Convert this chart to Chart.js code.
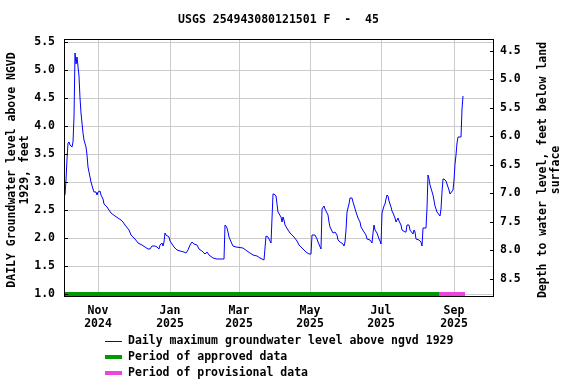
<!DOCTYPE html>
<html lang="en">
<head>
<meta charset="UTF-8">
<title>USGS 254943080121501 F - 45</title>
<script src="https://cdn.jsdelivr.net/npm/chart.js"></script>
<style>
  html, body { margin: 0; padding: 0; background: #fff; }
  #wrap { width: 576px; height: 384px; }
</style>
</head>
<body>
<div id="wrap"><canvas id="gwChart" width="576" height="384"></canvas></div>
<script>
// daily maximum level, feet above NGVD 1929
const obsDates = [
  '2024-10-03','2024-10-04','2024-10-05','2024-10-06','2024-10-07','2024-10-08','2024-10-09','2024-10-10',
  '2024-10-11','2024-10-12','2024-10-13','2024-10-14','2024-10-15','2024-10-16','2024-10-17','2024-10-18',
  '2024-10-19','2024-10-20','2024-10-21','2024-10-22','2024-10-23','2024-10-24','2024-10-25','2024-10-26',
  '2024-10-27','2024-10-28','2024-10-30','2024-10-31',
  '2024-11-01','2024-11-02','2024-11-03','2024-11-05','2024-11-06','2024-11-08','2024-11-10','2024-11-12',
  '2024-11-15','2024-11-18','2024-11-20','2024-11-22','2024-11-24','2024-11-27','2024-11-29',
  '2024-12-02','2024-12-05','2024-12-08','2024-12-11','2024-12-13','2024-12-15','2024-12-17','2024-12-19',
  '2024-12-21','2024-12-23','2024-12-24','2024-12-25','2024-12-26','2024-12-27','2024-12-28','2024-12-29','2024-12-31',
  '2025-01-01','2025-01-03','2025-01-05','2025-01-07','2025-01-10','2025-01-13','2025-01-15','2025-01-17',
  '2025-01-18','2025-01-20','2025-01-22','2025-01-24','2025-01-26','2025-01-29','2025-01-31',
  '2025-02-02','2025-02-04','2025-02-07','2025-02-10','2025-02-13','2025-02-16','2025-02-17','2025-02-18',
  '2025-02-19','2025-02-20','2025-02-21','2025-02-23','2025-02-24','2025-02-27',
  '2025-03-05','2025-03-08','2025-03-11','2025-03-13','2025-03-17','2025-03-19','2025-03-21','2025-03-23',
  '2025-03-24','2025-03-26','2025-03-28','2025-03-29','2025-03-30','2025-03-31',
  '2025-04-02','2025-04-03','2025-04-04','2025-04-06','2025-04-07','2025-04-08','2025-04-09','2025-04-10',
  '2025-04-12','2025-04-14','2025-04-17','2025-04-20','2025-04-22','2025-04-25','2025-04-28','2025-04-30',
  '2025-05-02','2025-05-03','2025-05-05','2025-05-07','2025-05-08','2025-05-10','2025-05-11','2025-05-13',
  '2025-05-14','2025-05-16','2025-05-17','2025-05-18','2025-05-20','2025-05-21','2025-05-22','2025-05-24',
  '2025-05-25','2025-05-27','2025-05-29','2025-05-30','2025-05-31',
  '2025-06-01','2025-06-02','2025-06-03','2025-06-04','2025-06-06','2025-06-07','2025-06-09','2025-06-10',
  '2025-06-11','2025-06-13','2025-06-14','2025-06-16','2025-06-18','2025-06-19','2025-06-21','2025-06-23',
  '2025-06-24','2025-06-25','2025-06-26','2025-06-27','2025-06-29','2025-06-30',
  '2025-07-01','2025-07-02','2025-07-03','2025-07-04','2025-07-05','2025-07-06','2025-07-07','2025-07-08',
  '2025-07-09','2025-07-10','2025-07-11','2025-07-13','2025-07-14','2025-07-15','2025-07-16','2025-07-18',
  '2025-07-19','2025-07-21','2025-07-22','2025-07-23','2025-07-25','2025-07-26','2025-07-28','2025-07-29',
  '2025-07-30','2025-07-31',
  '2025-08-02','2025-08-04','2025-08-05','2025-08-06','2025-08-08','2025-08-09','2025-08-10','2025-08-11',
  '2025-08-12','2025-08-14','2025-08-16','2025-08-18','2025-08-20','2025-08-21','2025-08-22','2025-08-23',
  '2025-08-24','2025-08-25','2025-08-27','2025-08-28','2025-08-29','2025-08-31',
  '2025-09-01','2025-09-02','2025-09-03','2025-09-04','2025-09-05','2025-09-07','2025-09-08','2025-09-09'
];
const obsLevels = [
  2.76, 3.03, 3.42, 3.69, 3.72, 3.66, 3.63, 3.72,
  4.17, 5.30, 5.12, 5.24, 4.90, 4.50, 4.23, 4.05,
  3.87, 3.75, 3.63, 3.48, 3.27, 3.18, 3.09, 3.00,
  2.88, 2.82, 2.82, 2.76,
  2.82, 2.84, 2.76, 2.69, 2.61, 2.55, 2.50, 2.45,
  2.40, 2.36, 2.33, 2.29, 2.23, 2.14, 2.05,
  1.99, 1.91, 1.87, 1.83, 1.80, 1.80, 1.85, 1.86,
  1.83, 1.81, 1.87, 1.91, 1.85, 1.93, 2.08, 2.06, 2.02,
  1.94, 1.89, 1.84, 1.79, 1.77, 1.75, 1.73, 1.79,
  1.87, 1.92, 1.90, 1.87, 1.81, 1.77, 1.72,
  1.75, 1.69, 1.65, 1.63, 1.62, 1.62, 2.24, 2.21,
  2.18, 2.11, 2.01, 1.90, 1.85, 1.84,
  1.82, 1.77, 1.73, 1.69, 1.68, 1.64, 1.63, 1.60,
  2.03, 2.01, 1.94, 1.91, 2.78, 2.79,
  2.75, 2.61, 2.46, 2.37, 2.29, 2.37, 2.32, 2.23,
  2.15, 2.08, 2.02, 1.94, 1.87, 1.80, 1.75, 1.72,
  1.71, 2.05, 2.05, 1.99, 1.93, 1.81, 2.51, 2.57,
  2.51, 2.41, 2.29, 2.20, 2.12, 2.08, 2.11, 2.05,
  1.97, 1.93, 1.89, 1.86, 1.93,
  2.15, 2.46, 2.60, 2.72, 2.72, 2.64, 2.46, 2.41,
  2.36, 2.29, 2.20, 2.11, 2.05, 1.99, 1.96, 1.91,
  2.08, 2.24, 2.14, 2.08, 1.99, 1.94,
  1.90, 2.44, 2.58, 2.60, 2.70, 2.76, 2.75, 2.67,
  2.55, 2.49, 2.44, 2.35, 2.29, 2.35, 2.30, 2.23,
  2.15, 2.11, 2.11, 2.23, 2.23, 2.15, 2.07, 2.14,
  2.11, 1.99,
  1.97, 1.93, 1.85, 2.17, 2.17, 2.53, 3.12, 3.06,
  2.94, 2.76, 2.58, 2.46, 2.40, 2.52, 2.82, 3.05,
  3.05, 3.02, 2.92, 2.85, 2.79, 2.85,
  3.03, 3.33, 3.48, 3.69, 3.80, 3.81, 4.30, 4.54
];

const approvedPeriod = ['2024-10-02', '2025-08-19'];
const provisionalPeriod = ['2025-08-19', '2025-09-11'];

const monthTicks = ['2024-11-01', '2025-01-01', '2025-03-01', '2025-05-01', '2025-07-01', '2025-09-01'];
const monthLabels = [['Nov', '2024'], ['Jan', '2025'], ['Mar', '2025'], ['May', '2025'], ['Jul', '2025'], ['Sep', '2025']];
const levelTicks = [1.0, 1.5, 2.0, 2.5, 3.0, 3.5, 4.0, 4.5, 5.0, 5.5];
const depthTicks = [4.5, 5.0, 5.5, 6.0, 6.5, 7.0, 7.5, 8.0, 8.5];

const titleText = 'USGS 254943080121501 F  -  45';
const leftTitle = ['DAILY Groundwater level above NGVD', '1929, feet'];
const rightTitle = ['Depth to water level, feet below land', 'surface'];
const legendText = ['Daily maximum groundwater level above ngvd 1929', 'Period of approved data', 'Period of provisional data'];

// days since 2024-10-01, used as the x value
const ORIGIN = Date.UTC(2024, 9, 1);
function dayOf(s) {
  const p = s.split('-');
  return (Date.UTC(+p[0], +p[1] - 1, +p[2]) - ORIGIN) / 86400000;
}

const FONT = '"DejaVu Sans Mono", "Liberation Mono", monospace';
Chart.defaults.font.family = FONT;
Chart.defaults.font.size = 11.5;
Chart.defaults.font.weight = 'bold';
Chart.defaults.color = '#000';

const levelPoints = obsDates.map((d, i) => ({ x: dayOf(d), y: obsLevels[i] }));
const periodLine = p => p.map(d => ({ x: dayOf(d), y: 1.0 }));

const extras = {
  id: 'extras',
  afterDatasetsDraw(chart) {
    const { ctx, chartArea: a, scales } = chart;
    ctx.save();
    ctx.strokeStyle = '#000';
    ctx.lineWidth = 1;
    ctx.strokeRect(a.left + 0.5, a.top + 0.5, a.right - a.left, a.bottom - a.top);
    ctx.beginPath();
    levelTicks.forEach(v => {
      const y = Math.round(scales.y.getPixelForValue(v)) + 0.5;
      ctx.moveTo(a.left, y); ctx.lineTo(a.left + 4, y);
    });
    depthTicks.forEach(v => {
      const y = Math.round(scales.y2.getPixelForValue(v)) + 0.5;
      ctx.moveTo(a.right - 3, y); ctx.lineTo(a.right + 1, y);
    });
    ctx.stroke();
    ctx.restore();
  },
  afterDraw(chart) {
    const { ctx, chartArea: a } = chart;
    ctx.save();
    ctx.fillStyle = '#000';
    ctx.font = 'bold 11.5px ' + FONT;
    ctx.textBaseline = 'middle';

    ctx.textAlign = 'center';
    ctx.fillText(titleText, (a.left + a.right) / 2, 20);

    // rotated axis titles
    const midY = 170;
    [[12, leftTitle[0]], [25, leftTitle[1]], [543, rightTitle[0]], [556, rightTitle[1]]].forEach(([x, t]) => {
      ctx.save();
      ctx.translate(x, midY);
      ctx.rotate(-Math.PI / 2);
      ctx.fillText(t, 0, 0);
      ctx.restore();
    });

    // legend
    const rows = [341.5, 357, 373];
    ctx.textAlign = 'left';
    chart.data.datasets.forEach((ds, i) => {
      ctx.beginPath();
      ctx.strokeStyle = ds.borderColor;
      ctx.lineWidth = ds.borderWidth;
      ctx.moveTo(105, rows[i]);
      ctx.lineTo(122, rows[i]);
      ctx.stroke();
      ctx.fillText(legendText[i], 128, rows[i]);
    });
    ctx.restore();
  }
};

new Chart(document.getElementById('gwChart'), {
  type: 'line',
  data: {
    datasets: [
      { data: levelPoints, borderColor: '#0000ff', borderWidth: 1, pointRadius: 0, tension: 0, yAxisID: 'y' },
      { data: periodLine(approvedPeriod), borderColor: '#009900', borderWidth: 4, pointRadius: 0, yAxisID: 'y' },
      { data: periodLine(provisionalPeriod), borderColor: '#ee44dd', borderWidth: 4, pointRadius: 0, yAxisID: 'y' }
    ]
  },
  options: {
    responsive: false,
    animation: false,
    devicePixelRatio: 1,
    layout: { padding: { top: 39, left: 0, right: 0, bottom: 0 } },
    plugins: { legend: { display: false }, title: { display: false }, tooltip: { enabled: false } },
    scales: {
      x: {
        type: 'linear',
        min: 1.5,
        max: 368.6,
        alignToPixels: true,
        afterFit: s => { s.height = 88; },
        afterBuildTicks: s => { s.ticks = monthTicks.map(d => ({ value: dayOf(d) })); },
        grid: { color: '#cccccc', drawTicks: false },
        border: { display: false },
        ticks: {
          padding: 9,
          maxRotation: 0,
          autoSkip: false,
          font: { lineHeight: 1.1 },
          callback: (v, i) => monthLabels[i]
        }
      },
      y: {
        position: 'left',
        min: 0.962,
        max: 5.559,
        alignToPixels: true,
        afterFit: s => { s.width = 64; },
        afterBuildTicks: s => { s.ticks = levelTicks.map(v => ({ value: v })); },
        grid: { color: '#cccccc', drawTicks: false },
        border: { display: false },
        ticks: { padding: 9, callback: v => v.toFixed(1) }
      },
      y2: {
        position: 'right',
        reverse: true,
        min: 4.298,
        max: 8.807,
        alignToPixels: true,
        afterFit: s => { s.width = 83; },
        afterBuildTicks: s => { s.ticks = depthTicks.map(v => ({ value: v })); },
        grid: { drawOnChartArea: false, drawTicks: false },
        border: { display: false },
        ticks: { padding: 7, callback: v => v.toFixed(1) }
      }
    }
  },
  plugins: [extras]
});
</script>
</body>
</html>
